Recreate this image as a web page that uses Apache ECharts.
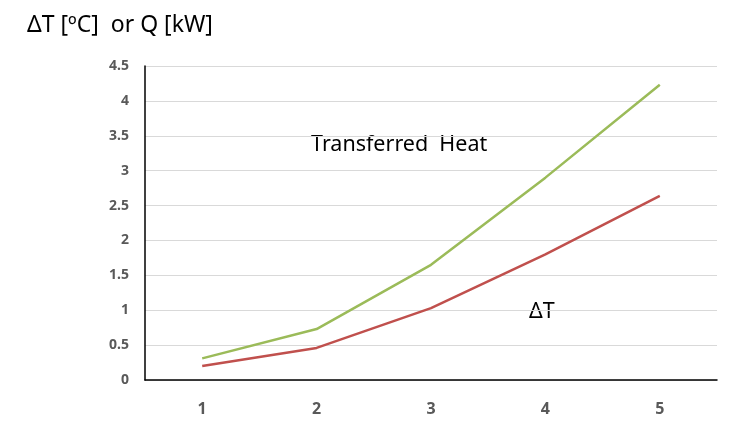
<!DOCTYPE html>
<html>
<head>
<meta charset="utf-8">
<script src="https://cdn.jsdelivr.net/npm/echarts@6/dist/echarts.min.js"></script>
<style>html,body{margin:0;padding:0;background:#fff;}#c{width:731px;height:428px;}</style>
</head>
<body>
<div id="c"></div>
<script>
const categories = ['1', '2', '3', '4', '5'];
const heatValues = [0.31, 0.73, 1.65, 2.9, 4.23];
const deltaTValues = [0.2, 0.46, 1.03, 1.8, 2.64];
const yMin = 0, yMax = 4.5, yInterval = 0.5;
const axisTitle = 'ΔT [ºC]  or Q [kW]';
const heatLabel = 'Transferred  Heat';
const deltaTLabel = 'ΔT';

const chart = echarts.init(document.getElementById('c'));
chart.setOption({
  animation: false,
  backgroundColor: '#ffffff',
  textStyle: { fontFamily: '"Noto Sans", sans-serif' },
  title: {
    text: axisTitle,
    left: 22, top: 9,
    textStyle: { fontSize: 23, fontWeight: 'normal', color: '#000', fontFamily: '"Noto Sans", sans-serif' }
  },
  grid: { left: 145, right: 14, top: 66, bottom: 48, containLabel: false },
  xAxis: {
    type: 'category',
    data: categories,
    boundaryGap: true,
    axisLine: { show: true, lineStyle: { color: '#000', width: 1.5 } },
    axisTick: { show: false },
    axisLabel: { fontSize: 16, color: '#595959', fontWeight: 'bold', margin: 21 },
    splitLine: { show: false }
  },
  yAxis: {
    type: 'value',
    min: yMin, max: yMax, interval: yInterval,
    axisLine: { show: true, lineStyle: { color: '#000', width: 1.5 } },
    axisTick: { show: false },
    axisLabel: { fontSize: 14, color: '#595959', fontWeight: 'bold', margin: 16 },
    splitLine: { show: true, lineStyle: { color: '#d9d9d9', width: 1 } }
  },
  series: [
    {
      name: 'Transferred Heat', type: 'line', data: heatValues,
      symbol: 'none', lineStyle: { color: '#9BBB59', width: 2.5 }, itemStyle: { color: '#9BBB59' }
    },
    {
      name: 'ΔT', type: 'line', data: deltaTValues,
      symbol: 'none', lineStyle: { color: '#C0504D', width: 2.5 }, itemStyle: { color: '#C0504D' }
    }
  ],
  graphic: [
    { type: 'text', left: 311, top: 134, style: { text: heatLabel, fontSize: 21.5, fill: '#000', fontFamily: '"Noto Sans", sans-serif' } },
    { type: 'text', left: 529, top: 301, style: { text: deltaTLabel, fontSize: 21.5, fill: '#000', fontFamily: '"Noto Sans", sans-serif' } }
  ]
});
</script>
</body>
</html>
